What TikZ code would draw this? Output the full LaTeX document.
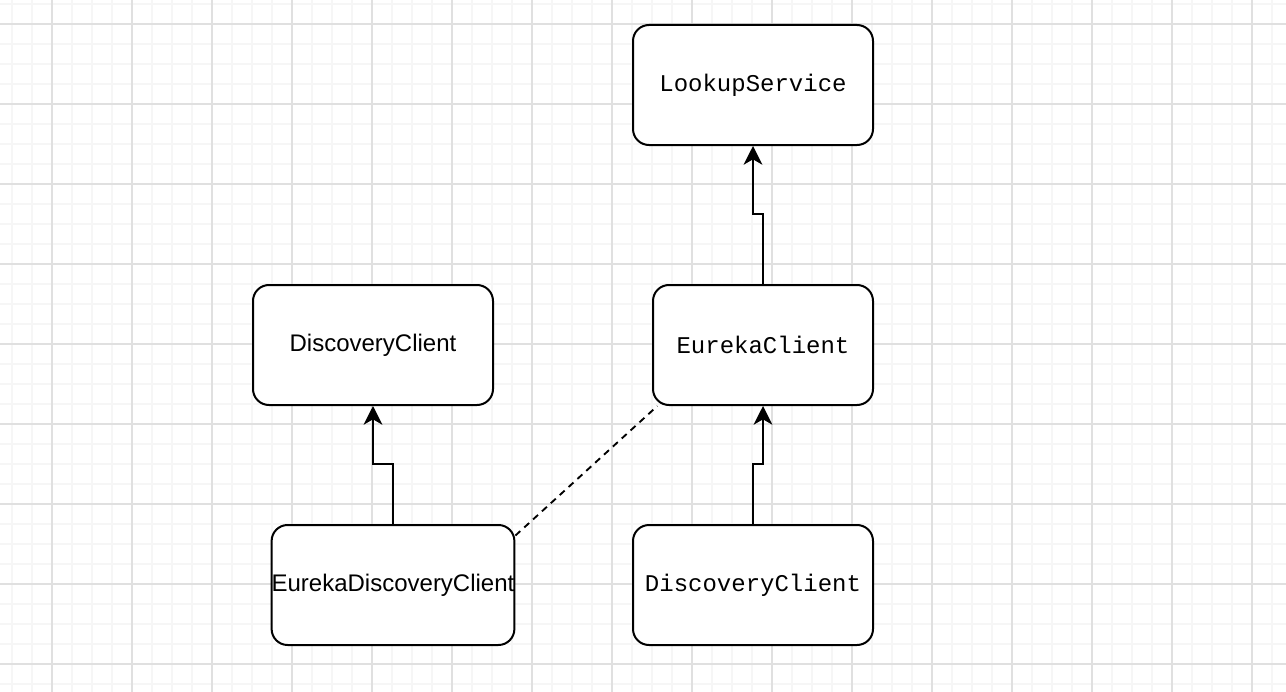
\documentclass[tikz,border=0pt]{standalone}
\usepackage{fontspec}
\setsansfont{Liberation Sans}
\setmonofont{Liberation Mono}
\usetikzlibrary{positioning,arrows.meta}
\definecolor{gminor}{HTML}{F6F6F6}
\definecolor{gmajor}{HTML}{E0E0E0}

\begin{document}
\begin{tikzpicture}[x=0.75pt, y=-0.75pt, >={Stealth[length=14pt,width=14pt,inset=4pt]},
   b/.style={draw, line width=1.5pt, rounded corners=12pt, fill=white, inner sep=0pt,
             minimum width=180pt, minimum height=90pt},
   code/.style={font=\fontsize{18}{22}\selectfont\ttfamily},
   sans/.style={font=\fontsize{18}{22}\selectfont\sffamily},
   link/.style={->, line width=1.5pt}]
  \useasboundingbox (0,0) rectangle (1286,692);
  \fill[white] (0,0) rectangle (1286,692);
  \foreach \x in {12,32,...,1286} \draw[gminor, line width=1.3pt] (\x,0) -- (\x,692);
  \foreach \y in {4,24,...,692} \draw[gminor, line width=1.3pt] (0,\y) -- (1286,\y);
  \foreach \x in {52,132,...,1286} \draw[gmajor, line width=0.8pt] (\x,0) -- (\x,692);
  \foreach \y in {24,104,...,692} \draw[gmajor, line width=0.8pt] (0,\y) -- (1286,\y);

  \node[b, code] (look) at (753,85) {LookupService};
  \node[b, sans] (dc) at (373,345) {DiscoveryClient};
  \node[b, code, minimum width=165pt] (ec) at (763,345) {EurekaClient};
  \node[b, sans] (edc) at (393,585) {EurekaDiscoveryClient};
  \node[b, code] (dc2) at (753,585) {DiscoveryClient};

  \draw[link] (ec.north) -- ++(0,-70) -| (look.south);
  \draw[link] (edc.north) -- ++(0,-60) -| (dc.south);
  \draw[link] (dc2.north) -- ++(0,-60) -| (ec.south);
  \draw[line width=1.4pt, dash pattern=on 5pt off 4pt] (edc.22.6) -- (ec.210);
\end{tikzpicture}
\end{document}
